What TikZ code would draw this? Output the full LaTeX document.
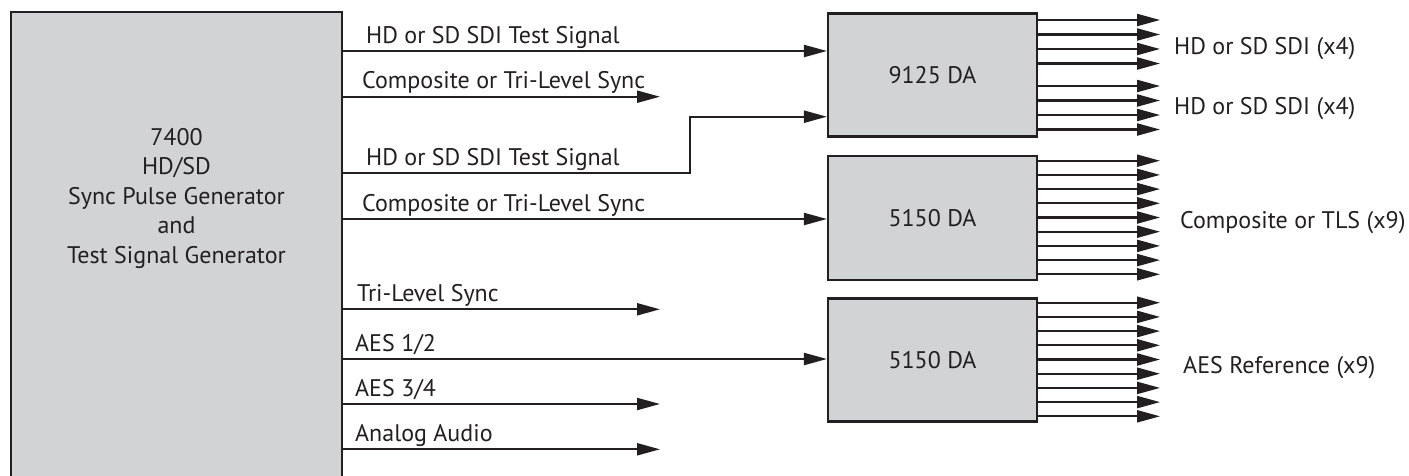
\documentclass[tikz,border=0pt]{standalone}
\usepackage{fontspec}
\setmainfont{PT Sans}
\usetikzlibrary{arrows.meta}
\definecolor{ink}{HTML}{231F20}
\definecolor{boxgray}{HTML}{D1D3D4}
\begin{document}
\begin{tikzpicture}[x=1pt,y=-1pt,
  block/.style={draw=ink, fill=boxgray, line width=2.1pt, inner sep=0pt, text=ink, font=\fontsize{24}{28}\selectfont},
  sig/.style={draw=ink, line width=2.1pt, -{Triangle[length=23pt,width=12pt]}},
  lab/.style={anchor=base west, inner sep=0pt, text=ink, font=\fontsize{24}{28}\selectfont}]
\useasboundingbox (0,0) rectangle (1409,475);
\begin{scope}
  \clip (0,0) rectangle (1409,475);
  \node[block, minimum width=331pt, minimum height=488pt] (gen) at (176.5,256) {};
\end{scope}
\node[align=center, inner sep=0pt, text=ink, font=\fontsize{24}{29.5}\selectfont] (gentext) at (176.5,198)
  {7400\\HD/SD\\Sync Pulse Generator\\and\\Test Signal Generator};

\node[block, minimum width=209pt, minimum height=123pt] (da1) at (932.5,75) {9125 DA};
\node[block, minimum width=209pt, minimum height=124pt] (da2) at (932.5,218) {5150 DA};
\node[block, minimum width=209pt, minimum height=123pt] (da3) at (932.5,360) {5150 DA};

% free ends
\coordinate (f2) at (660,96.7);
\coordinate (f5) at (660,309.3);
\coordinate (f7) at (660,404);
\coordinate (f8) at (660,449.3);
\coordinate (jog) at (690,116.7);

% inputs
\draw[sig] (gen.east |- 0,51) -- (da1.west |- 0,51);
\draw[sig] (gen.east |- f2) -- (f2);
\draw[sig] (gen.east |- 0,173) -- (jog |- 0,173) -- (jog) -- (da1.west |- jog);
\draw[sig] (gen.east |- 0,219) -- (da2.west |- 0,219);
\draw[sig] (gen.east |- f5) -- (f5);
\draw[sig] (gen.east |- 0,359) -- (da3.west |- 0,359);
\draw[sig] (gen.east |- f7) -- (f7);
\draw[sig] (gen.east |- f8) -- (f8);

\node[lab] (l1) at (366,43) {HD or SD SDI Test Signal};
\node[lab] (l2) at (362,88.7) {Composite or Tri-Level Sync};
\node[lab] (l3) at (366,165) {HD or SD SDI Test Signal};
\node[lab] (l4) at (362,211) {Composite or Tri-Level Sync};
\node[lab] (l5) at (357,301) {Tri-Level Sync};
\node[lab] (l6) at (355,351) {AES 1/2};
\node[lab] (l7) at (355,396.5) {AES 3/4};
\node[lab] (l8) at (355,441.5) {Analog Audio};

% outputs
\foreach \y in {20,34.5,49,63.5,86,100.5,115,129.5}
  \draw[sig] (da1.east |- 0,\y) -- ++(122,0);
\foreach \k in {0,...,8}
  \draw[sig] (da2.east |- 0,{160.7+14.2*\k}) -- ++(122,0);
\foreach \k in {0,...,8}
  \draw[sig] (da3.east |- 0,{302.7+14.2*\k}) -- ++(122,0);

\node[lab] (r1) at (1174,54) {HD or SD SDI (x4)};
\node[lab] (r2) at (1174,114) {HD or SD SDI (x4)};
\node[lab] (r3) at (1180,228) {Composite or TLS (x9)};
\node[lab] (r4) at (1183,373) {AES Reference (x9)};
\end{tikzpicture}
\end{document}
